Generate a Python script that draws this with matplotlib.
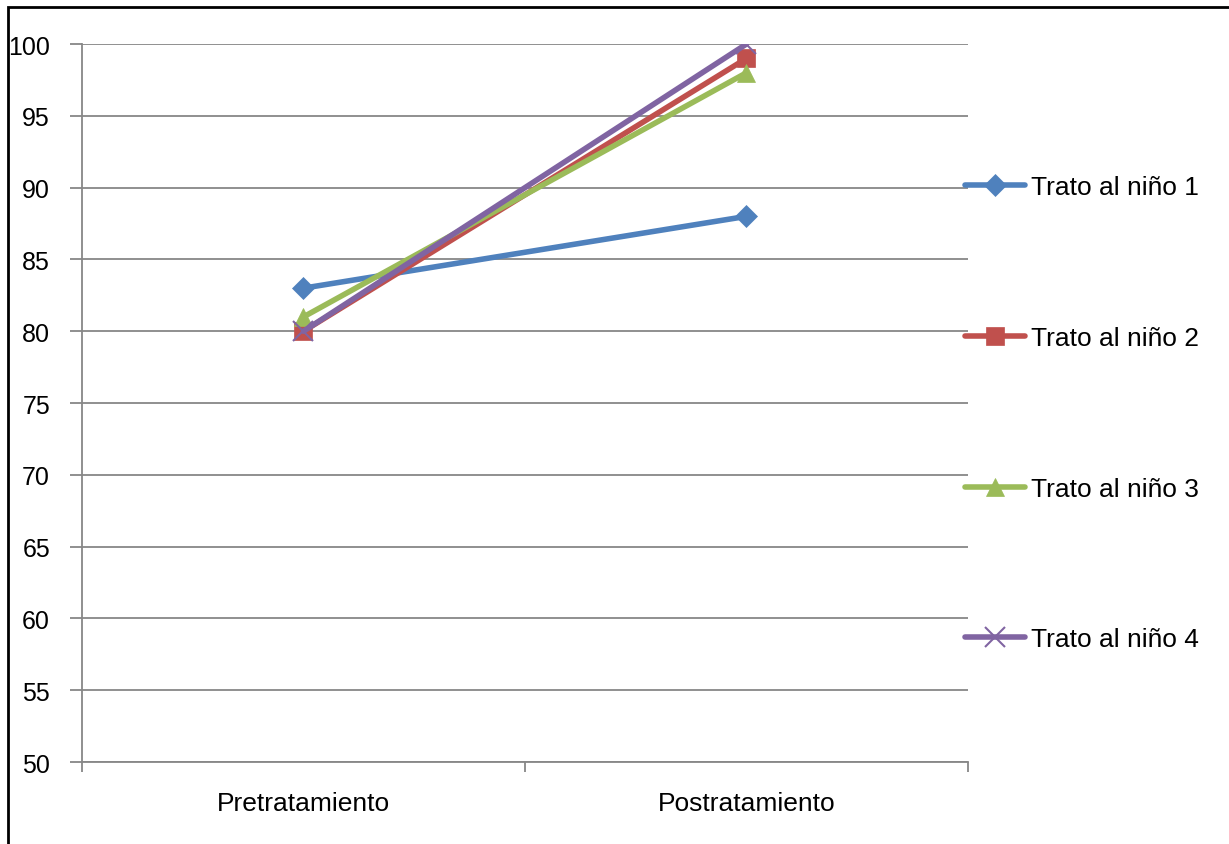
import matplotlib

matplotlib.use("Agg")
import matplotlib.pyplot as plt
from matplotlib.patches import Rectangle

plt.rcParams["font.family"] = ["Liberation Sans", "DejaVu Sans"]

categories = ["Pretratamiento", "Postratamiento"]
series_names = ["Trato al niño 1", "Trato al niño 2", "Trato al niño 3", "Trato al niño 4"]
nino1 = [83, 88]
nino2 = [80, 99]
nino3 = [81, 98]
nino4 = [80, 100]
y_ticks = [50, 55, 60, 65, 70, 75, 80, 85, 90, 95, 100]

colors = ["#4F81BD", "#C0504D", "#9BBB59", "#8064A2"]
markers = ["D", "s", "^", "x"]
msizes = [11, 13, 13, 15]

fig = plt.figure(figsize=(12.29, 8.45), dpi=100)
ax = fig.add_axes([0.0667, 0.0970, 0.7209, 0.8497])

x = list(range(len(categories)))
for vals, name, c, m, ms in zip([nino1, nino2, nino3, nino4], series_names, colors, markers, msizes):
    ax.plot(x, vals, color=c, linewidth=4, marker=m, markersize=ms,
            markeredgewidth=1.5 if m == "x" else 0.5, markeredgecolor=c, label=name,
            solid_capstyle="round")

ax.set_ylim(50, 100)
ax.set_xlim(-0.5, len(categories) - 0.5)
ax.set_yticks(y_ticks)
ax.set_yticklabels([str(v) for v in y_ticks], fontsize=18)
ax.yaxis.grid(True, color="#878787", linewidth=1.3)
ax.set_axisbelow(True)

ax.set_xticks([i - 0.5 for i in range(len(categories) + 1)])
ax.set_xticklabels([])
ax.set_xticks(x, minor=True)
ax.set_xticklabels(categories, minor=True, fontsize=19)
ax.tick_params(axis="x", which="minor", length=0, pad=21)
ax.tick_params(axis="x", which="major", length=7, color="#878787", width=1.3, direction="out")
ax.tick_params(axis="y", length=9, color="#878787", width=1.3, direction="out", pad=14)

for s in ["top", "right"]:
    ax.spines[s].set_visible(False)
for s in ["left", "bottom"]:
    ax.spines[s].set_color("#878787")
    ax.spines[s].set_linewidth(1.3)

ax.legend(loc="center left", bbox_to_anchor=(0.785, 0.5095), bbox_transform=fig.transFigure,
          frameon=False, fontsize=19, handlelength=2.27, handletextpad=0.25,
          labelspacing=4.8, borderpad=0, borderaxespad=0)

fig.patches.append(Rectangle((0.0065, -0.1), 1.2, 1.09, transform=fig.transFigure,
                             fill=False, edgecolor="black", linewidth=2))

fig.savefig("out.png", dpi=100)
